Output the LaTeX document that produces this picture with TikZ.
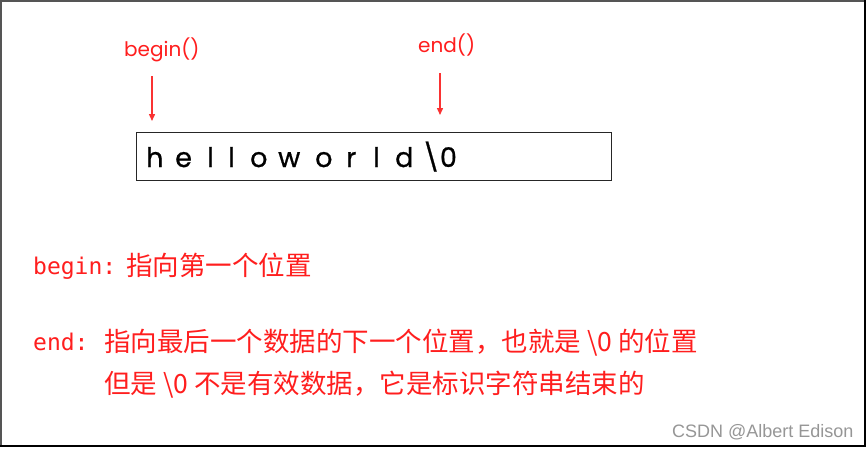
\documentclass[tikz,border=0pt]{standalone}
\usepackage{fontspec}
\usetikzlibrary{arrows.meta}
\newfontfamily\cjk{Noto Sans CJK SC}
\newfontfamily\monof{DejaVu Sans Mono}
\newfontfamily\handf{Poppins}
\newfontfamily\strf[FakeBold=0.8]{Poppins}
\newfontfamily\markf{Liberation Sans}
\definecolor{tred}{RGB}{255,30,30}
\definecolor{ared}{RGB}{250,50,50}
\definecolor{wgray}{RGB}{150,150,150}
\definecolor{fgray}{RGB}{85,85,85}
\newcommand\gl[2]{\makebox[0pt][l]{\hspace*{#1pt}#2}}
\tikzset{
  redlabel/.style={text=tred, font=\handf\fontsize{20}{24}\selectfont, inner sep=0pt},
  pointer/.style={draw=ared, line width=1.4pt, -{Triangle[length=7pt,width=6pt]}},
  cjktext/.style={text=tred, font=\cjk\fontsize{26.5}{30}\selectfont, inner sep=0pt, anchor=base west},
  monotext/.style={text=tred, font=\monof\fontsize{23}{28}\selectfont, inner sep=0pt, anchor=base west},
  strbox/.style={draw=black!85, line width=1.4pt, minimum width=475pt, minimum height=48pt, inner sep=0pt, anchor=north west},
}
\begin{document}
\begin{tikzpicture}[x=1pt,y=-1pt]
\useasboundingbox (0,0) rectangle (867,448);
\fill[white] (0,0) rectangle (867,448);
% frame
\draw[fgray, line width=1.5pt] (0,0.75) -- (866,0.75);
\draw[fgray, line width=2pt] (1,0) -- (1,447);
\draw[black, line width=2pt] (865,0) -- (865,447);
\draw[black, line width=2pt] (0,446) -- (866,446);
% string box
\node[strbox] (box) at (136,132) {};
\node[anchor=base west, inner sep=0pt, font=\strf\fontsize{27}{32}\selectfont] (str) at (146,167)
  {\gl{0}{h}\gl{29}{e}\gl{61}{l}\gl{82}{l}\gl{104}{o}\gl{132}{w}\gl{169}{o}\gl{200}{r}\gl{227}{l}\gl{249}{d}\gl{276}{\textbackslash 0}\hspace*{305pt}};
% labels and arrows
\node[redlabel, anchor=base west] (lbegin) at (124,56) {begin()};
\node[redlabel, anchor=base west] (lend) at (418,52) {end()};
\coordinate (bstart) at (152,76);
\coordinate (bend) at (152,121);
\coordinate (estart) at (440,73);
\coordinate (eend) at (440,115);
\draw[pointer] (bstart) -- (bend);
\draw[pointer] (estart) -- (eend);
% explanations
\node[monotext] (kbegin) at (33,274) {begin:};
\node[cjktext] (tbegin) at (126,275) {指向第一个位置};
\node[monotext] (kend) at (33,350) {end:};
\node[cjktext] (tend1) at (104,351) {指向最后一个数据的下一个位置，也就是 \textbackslash0 的位置};
\node[cjktext] (tend2) at (104,393) {但是 \textbackslash0 不是有效数据，它是标识字符串结束的};
% watermark
\node[anchor=base west, inner sep=0pt, text=wgray, font=\markf\fontsize{18}{20}\selectfont] (wm) at (672,437) {CSDN @Albert Edison};
\end{tikzpicture}
\end{document}
